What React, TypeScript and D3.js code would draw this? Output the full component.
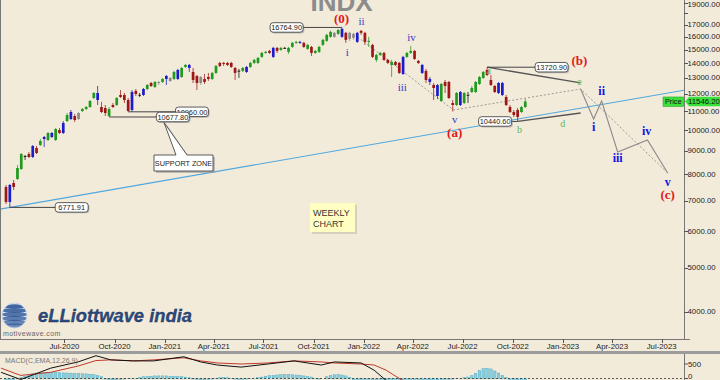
import React from "react";
import * as d3 from "d3";

// ---------- DATA ----------
const firstWeek = [2020, 2, 16]; // week of 16 Mar 2020, weekly bars

const opens = [
  7505, 6960, 7658, 7814, 8217, 8773, 8862, 8729, 9134, 9273,
  9655, 9509, 9851, 9509, 10000, 9851, 10464, 10570, 10731, 10570,
  11005, 11116, 11229, 11750, 12050, 11229, 11173, 10731, 11343, 11343,
  11929, 11929, 11632, 11060, 12173, 11929, 11929, 12296, 12674, 12421,
  12674, 12738, 13130, 12998, 12933, 12933, 13064, 13741, 13880, 13398,
  13130, 12674, 12933, 13064, 12933, 13331, 14021, 14021, 14021, 14021,
  13671, 13466, 13466, 13398, 13741, 14021, 14021, 14452, 14747, 14897,
  14452, 15124, 14972, 15124, 14822, 15201, 15511, 15590, 15511, 15048,
  15201, 14747, 14822, 15355, 15668, 15988, 16314, 16232, 16647, 16314,
  15827, 16232, 16314, 16480, 16314, 15590, 15355, 14235, 14599, 14747,
  14235, 13880, 14092, 14021, 13263, 14452, 14747, 14897, 14163, 13880,
  13466, 12933, 12547, 12547, 11574, 12738, 12738, 11458, 11343, 12111,
  11458, 11929, 12111, 12111, 12610, 12998, 13534, 12868, 12484, 12050,
  12674, 11810, 11229, 10950, 11060, 10950, 11229,
];
const highs = [
  7581, 7619, 7774, 8384, 8907, 8818, 8952, 9273, 9227, 9558,
  9703, 9900, 9900, 10101, 10101, 10464, 10894, 11060, 10840, 10950,
  11173, 11286, 11632, 12111, 12484, 11516, 11343, 11229, 11458, 11810,
  12234, 12050, 11750, 12234, 12296, 12050, 12358, 12610, 12738, 12803,
  12803, 12998, 13197, 13064, 13466, 13603, 13741, 13950, 13950, 13671,
  13197, 13130, 13263, 13331, 13398, 13880, 14092, 14092, 14092, 14092,
  13741, 13603, 13741, 13810, 14092, 14307, 14452, 14822, 14897, 14972,
  15201, 15201, 15201, 15201, 15201, 15590, 15668, 15668, 15590, 15433,
  15278, 14972, 15278, 15827, 16232, 16480, 16397, 16647, 16765, 16397,
  16397, 16314, 16397, 16545, 16397, 15988, 15433, 14673, 14822, 14822,
  14307, 14235, 14163, 14092, 14525, 14822, 15278, 14972, 14235, 13950,
  13603, 13064, 12674, 12610, 12674, 12868, 12803, 11632, 12111, 12173,
  12111, 12111, 12484, 12803, 13130, 13466, 13721, 13197, 12547, 12738,
  12738, 11929, 11343, 11060, 11173, 11286, 11691,
];
const lows = [
  6890, 6772, 7393, 7774, 8176, 8598, 8685, 8685, 8862, 9227,
  9180, 9461, 9606, 9461, 9801, 9801, 10411, 10517, 10411, 10517,
  10950, 11060, 11173, 11691, 11343, 10894, 10731, 10678, 11173, 11286,
  11750, 11458, 10960, 10950, 11869, 11810, 11869, 12234, 12421, 12358,
  12547, 12674, 12547, 12738, 12868, 12868, 12998, 13671, 13398, 12674,
  12234, 12547, 12610, 12803, 12868, 13263, 13741, 13810, 13810, 13671,
  12868, 12998, 13398, 13331, 13671, 13950, 13950, 14379, 14673, 14673,
  14379, 14747, 14897, 15048, 14673, 15124, 15433, 15433, 15124, 14972,
  14525, 14673, 14747, 15278, 15590, 15908, 15908, 16150, 15908, 15511,
  15668, 15748, 15511, 16150, 15355, 15201, 14379, 14092, 14525, 14163,
  13950, 13064, 13810, 13263, 13197, 14379, 14673, 14235, 13950, 13263,
  12674, 12547, 11632, 11691, 11516, 12050, 11691, 10980, 11286, 11286,
  11400, 11458, 12050, 12050, 12547, 12933, 13130, 12484, 12050, 11990,
  11869, 11286, 10894, 10678, 10441, 10894, 11173,
];
const closes = [
  6960, 7581, 7505, 8259, 8862, 8750, 8729, 9227, 8907, 9461,
  9558, 9851, 9655, 10050, 9851, 10359, 10785, 10950, 10517, 10894,
  11116, 11229, 11574, 12050, 11632, 10950, 10894, 11116, 11229, 11750,
  11810, 11632, 11005, 12111, 11990, 11940, 12296, 12547, 12484, 12738,
  12738, 12933, 12933, 12803, 13398, 13534, 13671, 13880, 13671, 12868,
  12674, 13064, 12738, 12933, 13331, 13810, 13810, 13950, 13880, 13741,
  13331, 13480, 13671, 13741, 14021, 14235, 14379, 14747, 14822, 14747,
  15124, 14897, 15124, 15110, 15124, 15511, 15590, 15511, 15201, 15355,
  14747, 14897, 15201, 15748, 16150, 16397, 15988, 16545, 15988, 15748,
  16314, 15908, 15590, 16314, 15590, 15668, 14452, 14599, 14747, 14235,
  14021, 14092, 13880, 13331, 14452, 14747, 14897, 14307, 14021, 13331,
  12868, 12738, 12358, 11869, 12610, 12484, 11750, 11343, 12050, 11343,
  12050, 11940, 12358, 12738, 13064, 13398, 13197, 12547, 12111, 12674,
  11929, 11343, 10950, 10785, 10678, 11229, 11546.2,
];
// bar colour codes (g green, r red, b blue, n grey, k black), 10 per row
const barColourRows = [
  "rbrggkrbrg", "bgbgrbgbrn", "ggggbrrgrg", "rrrbrkbgrg", "ngbngbggbr",
  "rnrrggrrrr", "rkgbgggggr", "brgkgggbrg", "rgggggngbr",
  "nnbrrgrggr", "rgrrbggrrb", "rbrbgrrrgb", "gkggggrrrb", "brrrrgg",
];

const xTickLabels = [
  "Jul-2020", "Oct-2020", "Jan-2021", "Apr-2021", "Jul-2021", "Oct-2021", "Jan-2022",
  "Apr-2022", "Jul-2022", "Oct-2022", "Jan-2023", "Apr-2023", "Jul-2023",
];
const priceTickValues = [19000, 18000, 17000, 16000, 15000, 14000, 13000, 12000, 11000, 10000, 9000, 8000, 7000, 6000, 5000, 4000];
const priceTickLabels = [19000, 17000, 16000, 15000, 14000, 13000, 12000, 11000, 10000, 9000, 8000, 7000, 6000, 5000, 4000];
const lastPrice = 11546.2;

// MACD (12,26,9)
const macdDates = [
  "2020-03-07", "2020-04-12", "2020-06-06", "2020-07-26", "2020-08-28", "2020-09-24", "2020-11-05",
  "2020-12-12", "2021-02-05", "2021-03-08", "2021-04-08", "2021-05-21", "2021-07-09", "2021-08-26",
  "2021-10-15", "2021-11-08", "2021-12-27", "2022-01-20", "2022-02-11", "2022-03-10", "2022-04-15",
  "2022-06-01", "2022-08-01", "2022-09-15", "2022-10-24",
];
const macdValues = [214, -36, 357, 571, 786, 643, 607, 607, 750, 571, 464, 393, 500, 607, 464, 571, 536, 286, -71, -300, -450, -650, -450, -300, -380];
const signalValues = [357, 107, 214, 429, 619, 643, 607, 643, 714, 607, 536, 500, 536, 607, 571, 536, 500, 464, 286, -36, -300, -550, -550, -400, -350];
const histValues = [
  -60, -80, -40, 0,
  40, 80, 120, 160, 190, 200, 210, 214, 214, 210, 200, 195, 190, 185, 180, 175, 170, 160, 150, 130, 100, 60,
  -20, -40, -50, -40, -30, -20, -10, -5, 5,
  40, 60, 70, 80, 90, 90, 90, 90, 80, 80, 70, 60, 50, 30,
  -20, -40, -50, -50, -40, -20, 10, 30, 40, 30, 10, -20, -30, -30, -20, -10, 10, 30, 50,
  80, 100, 110, 120, 130, 140, 140, 130, 120, 110, 90, 70, 50,
  -10, -20, 0,
  60, 100, 130, 140, 120, 90, 40,
  -80, -120, -150, -200, -220, -240, -250, -250, -240, -230, -220, -200, -180, -160, -140,
  -120, -100, -90, -80, -70, -60, -60, -50, -40, -40, -30, -20, -10, 10, 30,
  50, 100, 180, 280, 340, 357, 330, 260, 190, 110, 40,
  -40, -80, -110, -120, -100,
];

// annotations in data coordinates (week index from firstWeek, price)
const waveLabels = [
  { t: "(0)", w: 87.9, p: 17574, k: "red" },
  { t: "ii", w: 93.1, p: 17312, k: "blue" },
  { t: "i", w: 89.4, p: 14810, k: "blue" },
  { t: "iii", w: 103.8, p: 12417, k: "blue" },
  { t: "iv", w: 106.2, p: 15973, k: "blue" },
  { t: "v", w: 117.5, p: 10570, k: "blue" },
  { t: "(a)", w: 117.5, p: 9900, k: "red" },
  { t: "a", w: 126.4, p: 13527, k: "green" },
  { t: "b", w: 134.5, p: 10050, k: "green" },
  { t: "c", w: 140.3, p: 13950, k: "green" },
  { t: "d", w: 145.8, p: 10359, k: "green" },
  { t: "e", w: 150.2, p: 12797, k: "green" },
  { t: "(b)", w: 150.2, p: 14226, k: "red" },
  { t: "i", w: 153.9, p: 10152, k: "proj" },
  { t: "ii", w: 156.0, p: 12173, k: "proj" },
  { t: "iii", w: 160.2, p: 8685, k: "proj" },
  { t: "iv", w: 167.8, p: 9950, k: "proj" },
  { t: "v", w: 173.3, p: 7696, k: "proj" },
  { t: "(c)", w: 173.3, p: 7209, k: "red" },
];
const trendAnchors = [{ w: 1, p: 6771.91 }, { w: 135, p: 10600 }];
const channelPath = [{ w: 92.1, p: 15973 }, { w: 117.2, p: 11060 }, { w: 150.5, p: 12296 }, { w: 173.3, p: 8054 }];
const projectionPath = [{ w: 150.5, p: 12296 }, { w: 153.9, p: 10570 }, { w: 156.0, p: 11574 }, { w: 160.2, p: 8952 }, { w: 168.0, p: 9509 }, { w: 173.3, p: 8054 }];
const triangleUpper = [{ w: 126, p: 13720.9 }, { w: 150.5, p: 12674 }];
const triangleLower = [{ w: 134, p: 10440.6 }, { w: 150.5, p: 10894 }];
const priceNotes = [
  { text: "16764.90", w: 88, p: 16764.9, bw: 73.5 },
  { text: "10960.00", w: 32, p: 10960, bw: 48.7 },
  { text: "10677.80", w: 27, p: 10677.8, bw: 43.7 },
  { text: "6771.91", w: 1, p: 6771.91, bw: 17.2 },
  { text: "13720.90", w: 126, p: 13720.9, bw: 142.9 },
  { text: "10440.60", w: 134, p: 10440.6, bw: 128.1 },
];

const SANS = "'Liberation Sans', Arial, sans-serif";
const SERIF = "'Liberation Serif', 'Times New Roman', serif";
const BG = "#f3ebda";
const barFill: Record<string, string> = { g: "#1f9a1f", r: "#9e1616", b: "#1c1ccc", n: "#8a8a8a", k: "#111111" };
const labelFill: Record<string, string> = { red: "#e01818", blue: "#3535c8", green: "#5cb85c", proj: "#1414e6" };

export default function App() {
  const W = 720, H = 380;
  const plotR = 684, plotB = 339;
  const t0 = new Date(firstWeek[0], firstWeek[1], firstWeek[2]).getTime();
  const wk = (i: number) => new Date(t0 + i * 7 * 86400000);
  const x = d3.scaleTime().domain([new Date(2020, 2, 5), new Date(2023, 7, 11)]).range([0, plotR]);
  const y = d3.scaleLog().domain([3490, 19250]).range([plotB, 0]);
  const xw = (w: number) => x(wk(w));
  const pt = (d: { w: number; p: number }) => [xw(d.w), y(d.p)] as [number, number];
  const line = d3.line<[number, number]>();

  const colours = barColourRows.join("");
  const bodyW = 2.7;

  const [a1, a2] = trendAnchors.map(pt);
  const slope = (a2[1] - a1[1]) / (a2[0] - a1[0]);
  const ty = (px: number) => a1[1] + slope * (px - a1[0]);

  const xTicks = d3.timeMonth.every(3)!.range(new Date(2020, 6, 1), new Date(2023, 7, 1));

  const mTop = 354, mBot = 380;
  const my = d3.scaleLinear().domain([0, 500]).range([378.5, 364]);
  const mLine = d3.line<number>().x((_, i) => x(new Date(macdDates[i]))).y((v) => my(v));

  const lastY = y(lastPrice);

  return (
    <svg width={W} height={H} style={{ position: "fixed", left: 0, top: 0, background: BG }} fontFamily={SANS}>
      <defs>
        <clipPath id="plot"><rect x={0} y={0} width={plotR} height={plotB} /></clipPath>
        <clipPath id="macd"><rect x={0} y={mTop + 1} width={plotR} height={mBot - mTop} /></clipPath>
        <clipPath id="globe"><circle cx={14.5} cy={315.5} r={12} /></clipPath>
      </defs>
      <rect x={0} y={0} width={W} height={H} fill={BG} />

      <text x={341.5} y={10.5} textAnchor="middle" fontSize={26} fontWeight="bold" fill="#8c8c8c">INDX</text>

      <g clipPath="url(#plot)">
        <line x1={0} y1={ty(0)} x2={plotR} y2={ty(plotR)} stroke="#4fa8e0" strokeWidth={1.1} />
        <path d={line(channelPath.map(pt))!} fill="none" stroke="#8f8f8f" strokeWidth={0.9} strokeDasharray="2,2" />
        <path d={line(projectionPath.map(pt))!} fill="none" stroke="#8a8a8a" strokeWidth={1.1} />
        <path d={line(triangleUpper.map(pt))!} fill="none" stroke="#555" strokeWidth={1.3} />
        <path d={line(triangleLower.map(pt))!} fill="none" stroke="#555" strokeWidth={1.3} />

        {opens.map((o, i) => {
          const c = closes[i];
          const cx = xw(i);
          const col = barFill[colours[i]] || "#111";
          const top = y(Math.max(o, c));
          const bot = y(Math.min(o, c));
          return (
            <g key={i}>
              <line x1={cx} x2={cx} y1={y(highs[i])} y2={y(lows[i])} stroke={col} strokeWidth={0.9} opacity={0.85} />
              <rect x={cx - bodyW / 2} y={top} width={bodyW} height={Math.max(0.9, bot - top)} fill={col} />
            </g>
          );
        })}

        {waveLabels.map((l, i) => {
          const [lx, ly] = pt(l);
          const isRed = l.k === "red";
          const size = isRed ? 13 : l.k === "proj" ? 12 : l.k === "green" ? 10 : 11;
          return (
            <text key={i} x={lx} y={ly} textAnchor="middle" dominantBaseline="central" fontFamily={SERIF}
              fontSize={size} fontWeight={l.k === "proj" || isRed ? "bold" : "normal"} fill={labelFill[l.k]}>{l.t}</text>
          );
        })}

        {priceNotes.map((n, i) => {
          const [cx, cy] = pt(n);
          const bx = xw(n.bw);
          const bw = 33, bh = 9.5;
          const edge = bx < cx ? bx + bw / 2 : bx - bw / 2;
          return (
            <g key={i}>
              <line x1={cx} y1={cy} x2={edge} y2={cy} stroke="#444" strokeWidth={1} />
              <rect x={bx - bw / 2 + 1.2} y={cy - bh / 2 + 1.2} width={bw} height={bh} rx={3} fill="#9a9a9a" opacity={0.6} />
              <rect x={bx - bw / 2} y={cy - bh / 2} width={bw} height={bh} rx={3} fill="#fff" stroke="#333" strokeWidth={0.8} />
              <text x={bx} y={cy + 0.3} textAnchor="middle" dominantBaseline="central" fontSize={7.4} fill="#222">{n.text}</text>
            </g>
          );
        })}

        <path d="M156,157 L178,157 L166,123.5 L189,157 L215,157 L215,173 L156,173 Z" fill="#9a9a9a" opacity={0.6} />
        <path d="M154,155 L176,155 L164,122.5 L187,155 L213,155 L213,171 L154,171 Z" fill="#fff" stroke="#333" strokeWidth={0.8} />
        <text x={183.5} y={163.3} textAnchor="middle" dominantBaseline="central" fontSize={7.3} fill="#222">SUPPORT ZONE</text>

        <rect x={312} y={205} width={45} height={29} fill="#c9c3b2" opacity={0.7} />
        <rect x={310} y={203} width={45} height={29} fill="#ffffc4" />
        <text x={313} y={215.5} fontSize={9} fill="#333">WEEKLY</text>
        <text x={313} y={226.5} fontSize={9} fill="#333">CHART</text>

        <circle cx={14.5} cy={315.5} r={12.5} fill="#eef3fb" stroke="#b9c9df" strokeWidth={0.8} />
        <g clipPath="url(#globe)">
          {[305, 309, 313, 317, 321, 325].map((yy, i) => (
            <ellipse key={i} cx={14.5} cy={yy + 1.5} rx={13} ry={2.2 + i * 0.15} fill="#2c5597" opacity={0.9 - i * 0.05} />
          ))}
        </g>
        <text x={38} y={322} fontSize={18} fontStyle="italic" fontWeight="bold" fill="#2b4a7d"
          textLength={154} lengthAdjust="spacingAndGlyphs" stroke="#1b2f55" strokeWidth={0.3}>eLLiottwave india</text>
        <text x={3} y={335.5} fontSize={7} fill="#666" letterSpacing={0.4}>motivewave.com</text>

        <rect x={663} y={lastY - 4.5} width={20.5} height={9.5} fill="#3be03b" stroke="#1c9a1c" strokeWidth={0.5} />
        <text x={673.2} y={lastY + 0.4} textAnchor="middle" dominantBaseline="central" fontSize={7.3} fill="#111">Price</text>
      </g>

      <line x1={0.5} y1={0} x2={0.5} y2={plotB} stroke="#777" strokeWidth={1} />

      <line x1={plotR + 0.5} y1={0} x2={plotR + 0.5} y2={plotB + 1} stroke="#777" strokeWidth={1} />
      {priceTickValues.map((v) => (
        <line key={v} x1={plotR} x2={plotR + 4} y1={Math.round(y(v)) + 0.5} y2={Math.round(y(v)) + 0.5} stroke="#555" strokeWidth={1} />
      ))}
      {priceTickLabels.map((v) => (
        <text key={v} x={687.5} y={Math.max(y(v), 4)} dominantBaseline="central" fontSize={7.8} fill="#222">{v.toFixed(2)}</text>
      ))}
      <path d={`M${plotR + 1},${lastY} L${plotR + 5},${lastY - 4.8} L${W},${lastY - 4.8} L${W},${lastY + 4.8} L${plotR + 5},${lastY + 4.8} Z`} fill="#3be03b" />
      <text x={688} y={lastY + 0.4} dominantBaseline="central" fontSize={7.8} fill="#111">{lastPrice.toFixed(2)}</text>

      <line x1={0} x2={plotR + 6} y1={plotB + 0.5} y2={plotB + 0.5} stroke="#777" strokeWidth={1} />
      {xTicks.map((d, i) => (
        <g key={i}>
          <line x1={Math.round(x(d)) + 0.5} x2={Math.round(x(d)) + 0.5} y1={plotB} y2={plotB + 4} stroke="#555" strokeWidth={1} />
          <text x={x(d)} y={349} textAnchor="middle" fontSize={7.8} fill="#222">{xTickLabels[i]}</text>
        </g>
      ))}
      <rect x={0} y={351} width={W} height={3} fill="#9c9c9c" />

      <g clipPath="url(#macd)">
        {histValues.map((v, i) => {
          const cx = xw(i);
          const y0 = my(0), y1 = my(v);
          return <rect key={i} x={cx - 1.3} y={Math.min(y0, y1)} width={2.6} height={Math.abs(y1 - y0)} fill="#86cfe0" stroke="#4aa6bd" strokeWidth={0.4} />;
        })}
        <line x1={0} x2={plotR} y1={my(0)} y2={my(0)} stroke="#333" strokeWidth={0.8} strokeDasharray="2,2" />
        <path d={mLine(signalValues)!} fill="none" stroke="#c0392b" strokeWidth={1} />
        <path d={mLine(macdValues)!} fill="none" stroke="#111" strokeWidth={1} />
      </g>
      <text x={5} y={363} fontSize={7} fill="#777">MACD(C,EMA,12,26,9)</text>
      <line x1={plotR + 0.5} y1={mTop} x2={plotR + 0.5} y2={H} stroke="#777" strokeWidth={1} />
      {[500, 0].map((v) => (
        <g key={v}>
          <line x1={plotR} x2={plotR + 4} y1={my(v)} y2={my(v)} stroke="#555" strokeWidth={1} />
          <text x={688} y={Math.min(my(v), 376)} dominantBaseline="central" fontSize={7.8} fill="#222">{v}</text>
        </g>
      ))}
    </svg>
  );
}
